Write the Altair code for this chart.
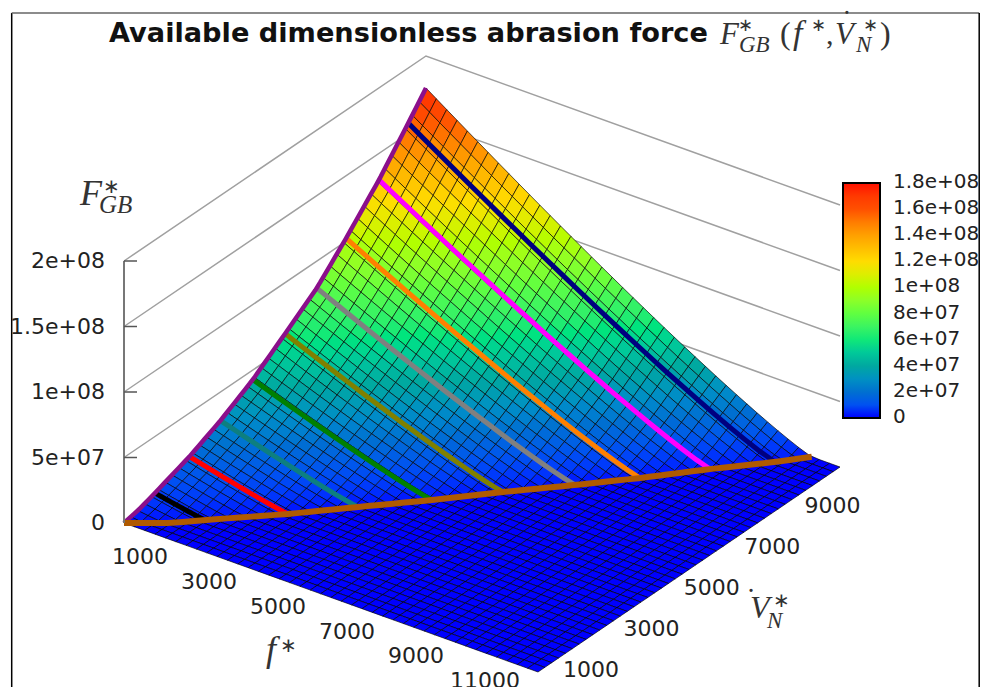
import altair as alt
import numpy as np

# ---- values ----
F_RANGE = [1000, 13000]
V_RANGE = [1000, 11000]
Z_MAX = 2e8
# knots of the f* = 1000 edge and of the zero-force boundary
knot_V = [1000, 1528, 2025, 3170, 4195, 5267, 6336, 7386, 8354, 9444, 10413, 11000]
edge_F = [0, 0.028e8, 0.069e8, 0.168e8, 0.282e8, 0.427e8, 0.611e8, 0.794e8, 1.023e8, 1.298e8, 1.58e8, 1.756e8]
limit_f = [1000, 1871, 2451, 3856, 4984, 6192, 7312, 8482, 9518, 10593, 11628, 12180]
# the nine highlighted constant-V curves
curve_V = [2025, 3170, 4195, 5267, 6336, 7386, 8354, 9444, 10413]
curve_colors = ["#000000", "#ff0000", "#0d7f80", "#008000", "#808000", "#808080", "#ff8000", "#ff00ff", "#000080"]
stop_values = [0, 2e7, 4e7, 6e7, 8e7, 1e8, 1.2e8, 1.4e8, 1.6e8, 1.8e8]
stop_labels = ["0", "2e+07", "4e+07", "6e+07", "8e+07", "1e+08", "1.2e+08", "1.4e+08", "1.6e+08", "1.8e+08"]
stop_colors = ["#0000ff", "#0070d0", "#00a8a0", "#10e878", "#60ff40", "#b0ff00", "#ffdc00", "#ffa000", "#ff5000", "#ff1000"]
f_ticks = [1000, 3000, 5000, 7000, 9000, 11000]
V_ticks = [1000, 3000, 5000, 7000, 9000]
z_ticks = [0, 5e7, 1e8, 1.5e8, 2e8]
z_labels = ["0", "5e+07", "1e+08", "1.5e+08", "2e+08"]
N_F, N_V = 40, 44
DECAY = 1.15
W, H = 972, 679


def proj(f, V, z=0.0):
    a = (f - F_RANGE[0]) / (F_RANGE[1] - F_RANGE[0])
    b = (V - V_RANGE[0]) / (V_RANGE[1] - V_RANGE[0])
    return [116 + 414 * a + 302 * b, 515 + 149 * a - 205 * b - 262 * z / Z_MAX]


def force(f, V):
    lim = np.interp(V, knot_V, limit_f)
    edge = np.interp(V, knot_V, edge_F)
    if lim <= F_RANGE[0]:
        return 0.0
    return float(edge * max(0.0, 1 - (f - F_RANGE[0]) / (lim - F_RANGE[0])) ** DECAY)


def line(pts, **props):
    return {"type": "Feature", "properties": props, "geometry": {"type": "LineString", "coordinates": pts}}


f_mesh = np.linspace(F_RANGE[0], F_RANGE[1], N_F + 1)
V_mesh = np.linspace(V_RANGE[0], V_RANGE[1], N_V + 1)
cells = []
for i in range(N_F):
    for j in range(N_V - 1, -1, -1):
        corners = [(f_mesh[i], V_mesh[j]), (f_mesh[i + 1], V_mesh[j]), (f_mesh[i + 1], V_mesh[j + 1]), (f_mesh[i], V_mesh[j + 1])]
        zs = [force(a, b) for a, b in corners]
        ring = [proj(a, b, z) for (a, b), z in zip(corners, zs)]
        cells.append({"type": "Feature", "properties": {"F": sum(zs) / 4},
                      "geometry": {"type": "Polygon", "coordinates": [ring + [ring[0]]]}})

wall = []
for z in z_ticks[1:]:
    wall.append(line([proj(1000, 1000, z), proj(1000, 11000, z), proj(13000, 11000, z)]))

axis = [line([proj(1000, 1000, 0), proj(1000, 1000, 2e8)], c="#777777", w=2)]
for z in z_ticks[1:]:
    p = proj(1000, 1000, z)
    axis.append(line([p, [p[0] + 13, p[1]]], c="#555555", w=1.5))
frame = [
    line([[3.7, 690], [3.7, 5]], c="#000000", w=1.5),
    line([[3.7, 5], [971.2, 5]], c="#666666", w=1.5),
    line([[971.2, 5], [971.2, 690]], c="#000000", w=1.5),
]

curves = []
for v, col in zip(curve_V, curve_colors):
    lim = float(np.interp(v, knot_V, limit_f))
    fs = np.linspace(1000, lim, 25)
    curves.append(line([proj(float(f), v, force(float(f), v)) for f in fs], c=col, w=5))
Vs = np.linspace(1000, 11000, 61)
curves.append(line([proj(1000, float(v), force(1000, float(v))) for v in Vs], c="#8b0f8b", w=4.5))
curves.append(line([proj(float(np.interp(v, knot_V, limit_f)), float(v), 0) for v in Vs], c="#b05a00", w=6))

labels = []
for f in f_ticks:
    p = proj(f, 1000)
    labels.append(dict(x=p[0] + 16, y=p[1] + 34, t=str(f), a="center"))
for v in V_ticks:
    p = proj(13000, v)
    labels.append(dict(x=p[0] + 53, y=p[1] - 2, t=str(v), a="center"))
for z, t in zip(z_ticks, z_labels):
    p = proj(1000, 1000, z)
    labels.append(dict(x=p[0] - 19, y=p[1], t=t, a="right"))
bar_labels = [dict(x=885, y=409 - 235 * v / stop_values[-1], t=t) for v, t in zip(stop_values, stop_labels)]

math = [
    # axis titles and the formula of the title, built from pieces
    ("F", 80, 205, 36, "italic"), ("∗", 103, 193, 20, "normal"), ("GB", 99, 213, 25, "italic"),
    ("f", 266, 661, 36, "italic"), ("∗", 280, 652, 20, "normal"),
    ("V", 750, 618, 32, "italic"), ("˙", 746, 609, 30, "normal"), ("∗", 773, 607, 20, "normal"), ("N", 767, 628, 23, "italic"),
    ("F", 720, 44, 31, "italic"), ("∗", 738, 31, 18, "normal"), ("GB", 739, 52, 23, "italic"),
    ("(", 780, 44, 32, "normal"), ("f", 793, 44, 34, "italic"), ("∗", 811, 31, 18, "normal"), (",", 826, 44, 30, "normal"),
    ("V", 835, 44, 31, "italic"), ("˙", 842, 31, 29, "normal"), ("∗", 863, 31, 18, "normal"), ("N", 856, 52, 23, "italic"), (")", 880, 44, 32, "normal"),
]
math_rows = [dict(t=t, x=x - 8, y=y - 8, s=s, st=st) for t, x, y, s, st in math]

P = dict(type="identity", scale=1, translate=[0, 0])


def geo_lines(features):
    return alt.Chart(alt.Data(values=features)).mark_geoshape(filled=False, strokeCap="butt").encode(
        stroke=alt.Stroke("properties.c:N", scale=None),
        strokeWidth=alt.StrokeWidth("properties.w:Q", scale=None),
    ).project(**P)


wall_layer = alt.Chart(alt.Data(values=wall)).mark_geoshape(filled=False, stroke="#a0a0a0", strokeWidth=1.5).project(**P)
surface = alt.Chart(alt.Data(values=cells)).mark_geoshape(stroke="#000000", strokeWidth=1.0, strokeOpacity=0.65).encode(
    color=alt.Color(
        "properties.F:Q",
        scale=alt.Scale(domain=stop_values, range=stop_colors),
        legend=alt.Legend(
            title=None, orient="none", legendX=835, legendY=175, gradientLength=235, gradientThickness=37,
            gradientStrokeColor="#000000", gradientStrokeWidth=2, values=stop_values, labelExpr="''",
        ),
    )
).project(**P)


def text_layer(rows, align, size):
    return alt.Chart(alt.Data(values=rows)).mark_text(
        font="DejaVu Sans", fontSize=size, color="#222222", align=align, baseline="middle"
    ).encode(longitude="x:Q", latitude="y:Q", text="t:N").project(**P)


title_text = alt.Chart(alt.Data(values=[dict(t="Available dimensionless abrasion force", x=101, y=26)])).mark_text(
    font="DejaVu Sans", fontWeight="bold", fontSize=27.2, color="#111111", align="left", baseline="middle"
).encode(longitude="x:Q", latitude="y:Q", text="t:N").project(**P)


def math_layer(style):
    rows = [r for r in math_rows if r["st"] == style]
    return alt.Chart(alt.Data(values=rows)).mark_text(
        font="Liberation Serif", fontStyle=style, color="#333333", align="left", baseline="alphabetic"
    ).encode(longitude="x:Q", latitude="y:Q", text="t:N", size=alt.Size("s:Q", scale=None)).project(**P)


chart = alt.layer(
    wall_layer, surface, geo_lines(curves), geo_lines(axis), geo_lines(frame),
    text_layer([d for d in labels if d["a"] == "center"], "center", 22),
    text_layer([d for d in labels if d["a"] == "right"], "right", 22),
    text_layer(bar_labels, "left", 20), title_text,
    math_layer("italic"), math_layer("normal")
).properties(width=W, height=H, padding=0, autosize=alt.AutoSizeParams(type="none"), background="white"
).configure_view(stroke=None)
chart.save("out.html", embed_options={"renderer": "svg", "actions": False})
